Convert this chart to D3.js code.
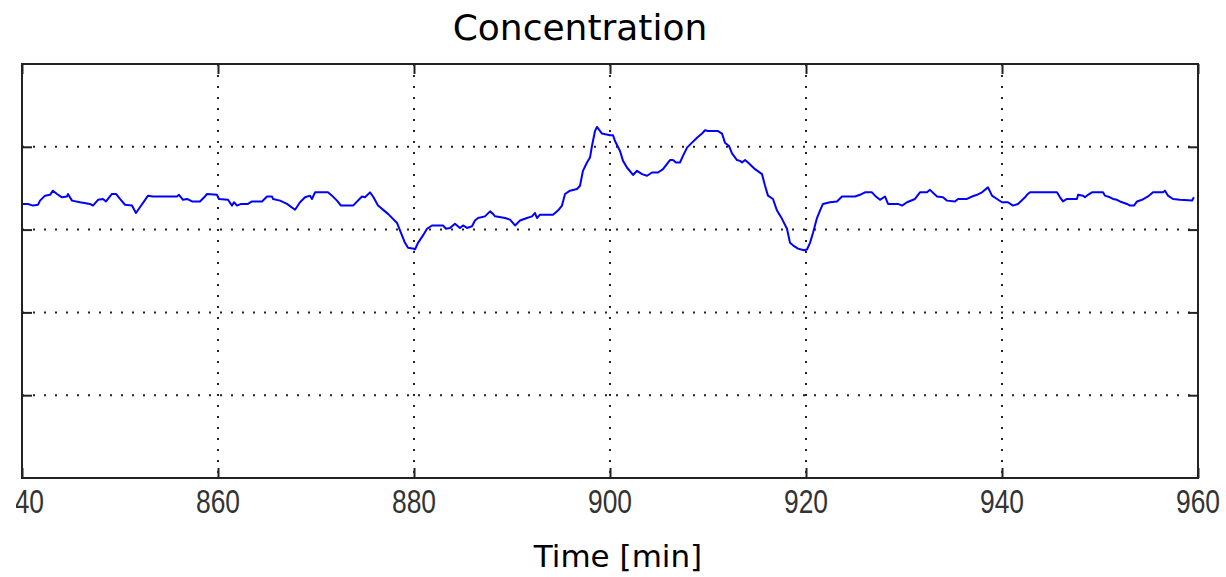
<!DOCTYPE html>
<html>
<head>
<meta charset="utf-8">
<script src="https://cdn.jsdelivr.net/npm/d3@7"></script>
<style>
  body { margin: 0; background: #fff; }
  svg { display: block; }
  .grid line { stroke: #222; stroke-width: 2; stroke-dasharray: 2,9; }
  .frame { fill: none; stroke: #222; stroke-width: 2; }
  .tick-label { font-family: "Liberation Sans", sans-serif; font-size: 33px; fill: #333; }
  .title { font-family: "DejaVu Sans", sans-serif; font-size: 36px; fill: #000; }
  .xlabel { font-family: "DejaVu Sans", sans-serif; font-size: 31px; fill: #000; }
</style>
</head>
<body>
<script>
// sample times (min) and concentration values
var times = [840, 840.61, 841.12, 841.63, 841.84, 842.35, 842.86, 843.16, 843.57, 844.08, 844.59, 844.69, 845.10, 845.92, 846.94, 847.24, 847.76, 848.27, 848.57, 849.18, 849.59, 850.00, 850.51, 851.22, 851.63, 852.04, 852.86, 853.37, 855.82, 856.02, 856.43, 856.84, 857.35, 858.16, 858.67, 858.88, 859.90, 860.10,
  861.02, 861.43, 861.63, 861.94, 862.35, 863.06, 863.47, 864.49, 865.00, 865.51, 865.61, 866.33, 867.04, 867.86, 868.37, 868.88, 869.39, 869.59, 869.90, 871.22, 871.63, 872.14, 872.55, 873.78, 874.69, 875.00, 875.51, 875.82, 876.33, 877.35, 878.27, 878.57, 879.08, 879.39, 880.00, 880.10,
  880.41, 880.92, 881.33, 881.84, 882.96, 883.27, 883.67, 884.18, 884.69, 885.00, 885.41, 885.92, 886.22, 886.53, 887.24, 887.76, 888.06, 888.27, 889.29, 889.80, 890.31, 890.82, 891.53, 892.04, 892.35, 892.55, 892.86, 894.18, 894.69, 895.10, 895.41, 895.92, 896.63, 896.94, 897.24, 897.65, 897.96, 898.16, 898.47, 898.67, 899.18, 900.00,
  900.31, 900.51, 901.02, 901.33, 901.73, 902.35, 902.76, 903.27, 903.78, 904.29, 904.90, 905.41, 906.12, 906.43, 906.73, 907.14, 907.45, 907.86, 908.37, 908.88, 909.39, 909.69, 910.00, 911.02, 911.43, 911.73, 912.14, 912.45, 912.96, 913.27, 913.47, 913.78, 914.08, 914.80, 915.51, 915.82, 916.12, 916.63, 917.04, 917.55, 918.06, 918.37, 918.67, 919.18, 919.80, 920.10,
  920.41, 920.71, 921.12, 921.43, 921.73, 922.45, 923.16, 923.67, 925.00, 925.51, 926.02, 926.73, 927.04, 927.55, 928.06, 928.37, 929.39, 929.80, 930.31, 931.12, 931.63, 932.35, 932.65, 933.37, 933.98, 934.39, 935.20, 935.51, 936.43, 936.94, 937.45, 937.96, 938.57, 938.98, 939.49,
  940.00, 940.61, 941.12, 941.63, 942.35, 942.55, 942.86, 945.61, 945.92, 946.22, 946.63, 947.65, 947.76, 948.27, 948.47, 948.78, 949.18, 950.31, 950.51, 951.02, 951.33, 951.73, 952.04, 952.76, 953.06, 953.47, 953.78, 954.29, 954.90, 955.41, 956.43, 956.63, 956.94, 957.45, 958.16, 959.39, 959.59];

var values = [3.31, 3.31, 3.29, 3.30, 3.35, 3.41, 3.42, 3.47, 3.43, 3.39, 3.40, 3.43, 3.35, 3.33, 3.31, 3.29, 3.36, 3.37, 3.34, 3.43, 3.43, 3.37, 3.30, 3.29, 3.20, 3.27, 3.41, 3.40, 3.40, 3.42, 3.36, 3.37, 3.34, 3.34, 3.40, 3.43, 3.42, 3.37,
  3.36, 3.29, 3.33, 3.29, 3.31, 3.31, 3.34, 3.34, 3.40, 3.40, 3.37, 3.35, 3.31, 3.24, 3.33, 3.39, 3.41, 3.37, 3.45, 3.45, 3.41, 3.35, 3.29, 3.29, 3.40, 3.39, 3.45, 3.40, 3.29, 3.19, 3.08, 2.99, 2.84, 2.78, 2.77, 2.76,
  2.84, 2.93, 3.01, 3.05, 3.05, 3.01, 3.02, 3.07, 3.02, 3.05, 3.02, 3.04, 3.11, 3.14, 3.16, 3.22, 3.19, 3.16, 3.14, 3.12, 3.05, 3.11, 3.14, 3.16, 3.20, 3.14, 3.18, 3.18, 3.23, 3.29, 3.43, 3.47, 3.49, 3.53, 3.71, 3.81, 3.87, 4.01, 4.19, 4.24, 4.16, 4.14,
  4.14, 4.07, 3.95, 3.83, 3.75, 3.66, 3.71, 3.67, 3.65, 3.69, 3.69, 3.73, 3.84, 3.84, 3.81, 3.81, 3.89, 3.99, 4.05, 4.11, 4.16, 4.20, 4.19, 4.19, 4.16, 4.05, 4.01, 3.92, 3.84, 3.83, 3.81, 3.84, 3.81, 3.73, 3.67, 3.53, 3.41, 3.37, 3.23, 3.13, 3.01, 2.84, 2.81, 2.77, 2.75, 2.76,
  2.84, 2.96, 3.14, 3.23, 3.31, 3.33, 3.34, 3.40, 3.40, 3.42, 3.45, 3.45, 3.41, 3.36, 3.40, 3.31, 3.31, 3.29, 3.33, 3.37, 3.45, 3.45, 3.48, 3.40, 3.39, 3.35, 3.34, 3.37, 3.37, 3.40, 3.42, 3.45, 3.51, 3.41, 3.37,
  3.33, 3.33, 3.29, 3.31, 3.39, 3.42, 3.45, 3.45, 3.39, 3.34, 3.37, 3.37, 3.42, 3.41, 3.39, 3.42, 3.45, 3.45, 3.41, 3.39, 3.37, 3.36, 3.34, 3.31, 3.29, 3.29, 3.34, 3.36, 3.40, 3.45, 3.45, 3.47, 3.41, 3.37, 3.36, 3.35, 3.39];

var xTicks = [840, 860, 880, 900, 920, 940, 960];
var yTicks = [1, 2, 3, 4];
var titleText = "Concentration";
var xLabelText = "Time [min]";

(function(){
  var width = 1226,
      height = 577;
  var margin = {top: 64, right: 28, bottom: 99, left: 22};
  var innerW = width - margin.left - margin.right,
      innerH = height - margin.top - margin.bottom;

  var svg = d3.select("body")
      .append("svg")
      .attr("width", width)
      .attr("height", height);

  var x = d3.scaleLinear().domain([840, 960]).range([margin.left, margin.left + innerW]);
  var y = d3.scaleLinear().domain([0, 5]).range([margin.top + innerH, margin.top]);

  //dotted grid
  var grid = svg.append("g").attr("class", "grid");
  grid.selectAll(".vg")
      .data(xTicks.slice(1, -1))
      .enter()
      .append("line")
      .attr("x1", d => x(d)).attr("x2", d => x(d))
      .attr("y1", y(5)).attr("y2", y(0));
  grid.selectAll(".hg")
      .data(yTicks)
      .enter()
      .append("line")
      .attr("x1", x(840)).attr("x2", x(960))
      .attr("y1", d => y(d)).attr("y2", d => y(d));

  //concentration line
  var line = d3.line()
      .x((d, i) => x(times[i]))
      .y(d => y(d));
  svg.append("path")
      .datum(values)
      .attr("fill", "none")
      .attr("stroke", "#0000ff")
      .attr("stroke-width", 2)
      .attr("stroke-linejoin", "round")
      .attr("d", line);

  //axes: inward ticks on all four sides
  var tickLen = 10;
  function tickStyle(g){
    g.select(".domain").remove();
    g.selectAll("line").attr("stroke", "#222").attr("stroke-width", 2);
  }
  svg.append("g")
      .attr("transform", "translate(0," + y(0) + ")")
      .call(d3.axisBottom(x).tickValues(xTicks).tickSize(-tickLen).tickFormat(""))
      .call(tickStyle);
  svg.append("g")
      .attr("transform", "translate(0," + y(5) + ")")
      .call(d3.axisTop(x).tickValues(xTicks).tickSize(-tickLen).tickFormat(""))
      .call(tickStyle);
  svg.append("g")
      .attr("transform", "translate(" + x(840) + ",0)")
      .call(d3.axisLeft(y).tickValues(yTicks).tickSize(-tickLen).tickFormat(""))
      .call(tickStyle);
  svg.append("g")
      .attr("transform", "translate(" + x(960) + ",0)")
      .call(d3.axisRight(y).tickValues(yTicks).tickSize(-tickLen).tickFormat(""))
      .call(tickStyle);

  svg.append("rect")
      .attr("class", "frame")
      .attr("x", x(840)).attr("y", y(5))
      .attr("width", x(960) - x(840))
      .attr("height", y(0) - y(5));

  //tick labels, narrowed; the left one is cut by the figure edge
  svg.append("clipPath").attr("id", "lblclip")
      .append("rect").attr("x", 16).attr("y", 0).attr("width", width).attr("height", height);
  svg.append("g")
      .attr("clip-path", "url(#lblclip)")
      .selectAll("text")
      .data(xTicks)
      .enter()
      .append("text")
      .attr("class", "tick-label")
      .attr("transform", d => "translate(" + x(d) + "," + (y(0) + 35) + ") scale(0.8,1)")
      .attr("text-anchor", "middle")
      .text(d => d);

  svg.append("text")
      .attr("class", "title")
      .attr("x", 580).attr("y", 40)
      .attr("text-anchor", "middle")
      .text(titleText);

  svg.append("text")
      .attr("class", "xlabel")
      .attr("x", 618).attr("y", 567)
      .attr("text-anchor", "middle")
      .text(xLabelText);
})();
</script>
</body>
</html>
